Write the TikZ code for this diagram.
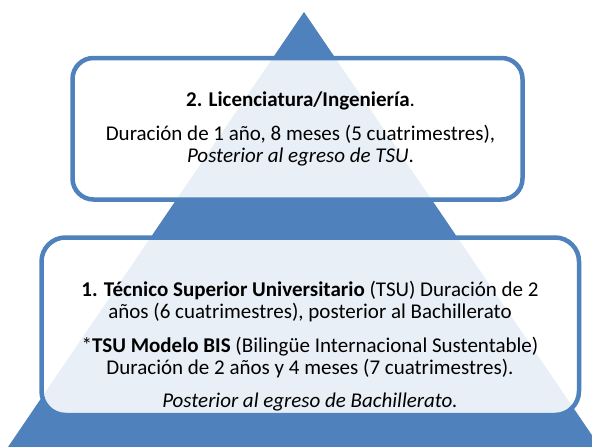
\documentclass[tikz,border=0pt]{standalone}
\usepackage{fontspec}
\setmainfont{Carlito}
\definecolor{pyrblue}{HTML}{4F81BD}
\tikzset{
  boxshape/.style={draw=pyrblue, line width=4.5pt, fill=white, fill opacity=0.88, rounded corners=#1, inner sep=0pt},
  txt/.style={anchor=base, inner sep=0pt, text=black, font=\fontsize{21}{25}\selectfont}
}
\begin{document}
\begin{tikzpicture}[x=1pt,y=-1pt]
\useasboundingbox (0,0) rectangle (592,447);
\clip (0,0) rectangle (592,447);
\fill[white] (0,0) rectangle (592,447);
\fill[pyrblue] (304,12) -- (600,447) -- (8,447) -- cycle;
\node[boxshape=21pt, minimum width=450pt, minimum height=141.5pt] (top) at (297.5,128.75) {};
\node[boxshape=24pt, minimum width=537.5pt, minimum height=177.5pt] (bottom) at (310.25,326.25) {};
\node[txt] (h2) at (300.5,106.7) {\textbf{2. Licenciatura/Ingeniería}.};
\node[txt] (l2a) at (300.5,140) {Duración de 1 año, 8 meses (5 cuatrimestres),};
\node[txt] (l2b) at (300.5,162.7) {\textit{Posterior al egreso de TSU}.};
\node[txt] (l1a) at (310,296) {\textbf{1. Técnico Superior Universitario} (TSU) Duración de 2};
\node[txt] (l1b) at (310,318) {años (6 cuatrimestres), posterior al Bachillerato};
\node[txt] (l1c) at (310,352) {*\textbf{TSU Modelo BIS} (Bilingüe Internacional Sustentable)};
\node[txt] (l1d) at (310,374.5) {Duración de 2 años y 4 meses (7 cuatrimestres).};
\node[txt] (l1e) at (310,407.5) {\textit{Posterior al egreso de Bachillerato.}};
\end{tikzpicture}
\end{document}
